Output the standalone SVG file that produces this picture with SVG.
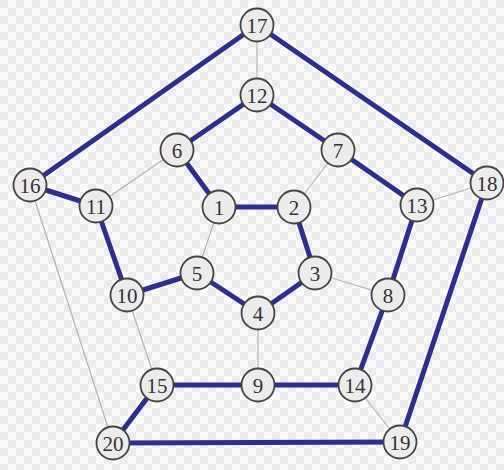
<svg xmlns="http://www.w3.org/2000/svg" width="504" height="470" viewBox="0 0 504 470">
<defs>
<pattern id="chk" width="16" height="16" patternUnits="userSpaceOnUse">
<rect width="16" height="16" fill="#fafafa"/>
<rect width="8" height="8" fill="#ececec"/>
<rect x="8" y="8" width="8" height="8" fill="#ececec"/>
</pattern>
<style>
.h{stroke:#2e2e8c;stroke-width:5;stroke-linecap:round}
.t{stroke:#b4b4b4;stroke-width:1.2}
.n circle{fill:#ececec;stroke:#444;stroke-width:1.8}
.n text{font-family:"Liberation Serif","Times New Roman",serif;font-size:21px;fill:#333;text-anchor:middle;dominant-baseline:central}
</style>
</defs>
<rect width="504" height="470" fill="url(#chk)"/>
<g id="edges">
<line class="t" x1="257" y1="25" x2="257" y2="95"/>
<line class="t" x1="177" y1="150" x2="96" y2="206"/>
<line class="t" x1="338" y1="150" x2="294" y2="207"/>
<line class="t" x1="417" y1="205" x2="487" y2="183"/>
<line class="t" x1="219" y1="207" x2="197" y2="273"/>
<line class="t" x1="315" y1="273" x2="388" y2="295"/>
<line class="t" x1="258" y1="313" x2="258" y2="385"/>
<line class="t" x1="127" y1="295" x2="157" y2="385"/>
<line class="t" x1="30" y1="185" x2="113" y2="443"/>
<line class="t" x1="355" y1="385" x2="400" y2="442"/>
<line class="h" x1="257" y1="25" x2="30" y2="185"/>
<line class="h" x1="257" y1="25" x2="487" y2="183"/>
<line class="h" x1="257" y1="95" x2="177" y2="150"/>
<line class="h" x1="257" y1="95" x2="338" y2="150"/>
<line class="h" x1="177" y1="150" x2="219" y2="207"/>
<line class="h" x1="219" y1="207" x2="294" y2="207"/>
<line class="h" x1="294" y1="207" x2="315" y2="273"/>
<line class="h" x1="315" y1="273" x2="258" y2="313"/>
<line class="h" x1="258" y1="313" x2="197" y2="273"/>
<line class="h" x1="197" y1="273" x2="127" y2="295"/>
<line class="h" x1="127" y1="295" x2="96" y2="206"/>
<line class="h" x1="96" y1="206" x2="30" y2="185"/>
<line class="h" x1="338" y1="150" x2="417" y2="205"/>
<line class="h" x1="417" y1="205" x2="388" y2="295"/>
<line class="h" x1="388" y1="295" x2="355" y2="385"/>
<line class="h" x1="355" y1="385" x2="258" y2="385"/>
<line class="h" x1="258" y1="385" x2="157" y2="385"/>
<line class="h" x1="157" y1="385" x2="113" y2="443"/>
<line class="h" x1="113" y1="443" x2="400" y2="442"/>
<line class="h" x1="400" y1="442" x2="487" y2="183"/>
</g>
<g id="n1" class="n"><circle cx="219" cy="207" r="16.5"/><text x="219" y="208">1</text></g>
<g id="n2" class="n"><circle cx="294" cy="207" r="16.5"/><text x="294" y="208">2</text></g>
<g id="n3" class="n"><circle cx="315" cy="273" r="16.5"/><text x="315" y="274">3</text></g>
<g id="n4" class="n"><circle cx="258" cy="313" r="16.5"/><text x="258" y="314">4</text></g>
<g id="n5" class="n"><circle cx="197" cy="273" r="16.5"/><text x="197" y="274">5</text></g>
<g id="n6" class="n"><circle cx="177" cy="150" r="16.5"/><text x="177" y="151">6</text></g>
<g id="n7" class="n"><circle cx="338" cy="150" r="16.5"/><text x="338" y="151">7</text></g>
<g id="n8" class="n"><circle cx="388" cy="295" r="16.5"/><text x="388" y="296">8</text></g>
<g id="n9" class="n"><circle cx="258" cy="385" r="16.5"/><text x="258" y="386">9</text></g>
<g id="n10" class="n"><circle cx="127" cy="295" r="16.5"/><text x="127" y="296">10</text></g>
<g id="n11" class="n"><circle cx="96" cy="206" r="16.5"/><text x="96" y="207">11</text></g>
<g id="n12" class="n"><circle cx="257" cy="95" r="16.5"/><text x="257" y="96">12</text></g>
<g id="n13" class="n"><circle cx="417" cy="205" r="16.5"/><text x="417" y="206">13</text></g>
<g id="n14" class="n"><circle cx="355" cy="385" r="16.5"/><text x="355" y="386">14</text></g>
<g id="n15" class="n"><circle cx="157" cy="385" r="16.5"/><text x="157" y="386">15</text></g>
<g id="n16" class="n"><circle cx="30" cy="185" r="16.5"/><text x="30" y="186">16</text></g>
<g id="n17" class="n"><circle cx="257" cy="25" r="16.5"/><text x="257" y="26">17</text></g>
<g id="n18" class="n"><circle cx="487" cy="183" r="16.5"/><text x="487" y="184">18</text></g>
<g id="n19" class="n"><circle cx="400" cy="442" r="16.5"/><text x="400" y="443">19</text></g>
<g id="n20" class="n"><circle cx="113" cy="443" r="16.5"/><text x="113" y="444">20</text></g>
</svg>
